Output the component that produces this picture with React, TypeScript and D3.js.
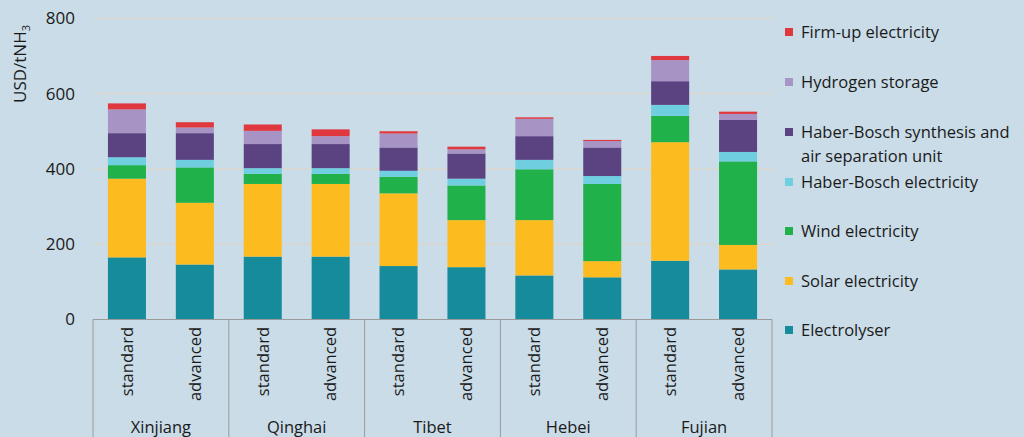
import React, { useEffect, useRef } from "react";
import * as d3 from "d3";

const regions = ["Xinjiang", "Qinghai", "Tibet", "Hebei", "Fujian"];
const cases = ["standard", "advanced"];

// stack order, bottom to top
const seriesNames = [
  "Electrolyser",
  "Solar electricity",
  "Wind electricity",
  "Haber-Bosch electricity",
  "Haber-Bosch synthesis and air separation unit",
  "Hydrogen storage",
  "Firm-up electricity",
];
const seriesColors = ["#168b9c", "#fcbb1f", "#20b14a", "#6fcfe0", "#5b4382", "#a893c5", "#e0383f"];

// one value per bar: Xinjiang std, Xinjiang adv, Qinghai std, ... Fujian adv
const electrolyser = [165, 146, 167, 167, 142, 139, 117, 112, 156, 133];
const solar = [209, 164, 193, 193, 193, 125, 147, 43, 315, 65];
const wind = [36, 94, 27, 27, 44, 92, 135, 205, 70, 222];
const hbElectricity = [21, 20, 15, 15, 16, 18, 25, 21, 29, 25];
const hbSynthesis = [64, 71, 64, 64, 62, 67, 63, 76, 63, 85];
const h2Storage = [63, 15, 35, 21, 37, 11, 46, 17, 56, 16];
const firmUp = [16, 14, 17, 18, 6, 7, 4, 3, 11, 6];

const yTicks = [0, 200, 400, 600, 800];

const legendLines = [
  ["Firm-up electricity"],
  ["Hydrogen storage"],
  ["Haber-Bosch synthesis and", "air separation unit"],
  ["Haber-Bosch electricity"],
  ["Wind electricity"],
  ["Solar electricity"],
  ["Electrolyser"],
];

function App() {
  const ref = useRef<SVGSVGElement>(null);

  useEffect(() => {
    const width = 1024;
    const height = 437;
    const font = "'Open Sans', sans-serif";
    const textColor = "#1a1a1a";

    const svg = d3.select(ref.current);
    svg.selectAll("*").remove();

    svg.append("rect").attr("width", width).attr("height", height).attr("fill", "#c9dce7");

    const bars = regions.flatMap((r) => cases.map((c) => `${r}|${c}`));
    const all = [electrolyser, solar, wind, hbElectricity, hbSynthesis, h2Storage, firmUp];
    const rows = bars.map((key, i) => {
      const row: any = { key };
      seriesNames.forEach((s, j) => (row[s] = all[j][i]));
      return row;
    });

    const x = d3.scaleBand().domain(bars).range([93, 772]).paddingInner(0.44).paddingOuter(0.22);
    const y = d3.scaleLinear().domain([0, 800]).range([319.5, 18.3]);

    // gridlines
    svg
      .append("g")
      .selectAll("line")
      .data(yTicks.filter((d) => d > 0))
      .join("line")
      .attr("x1", 93)
      .attr("x2", 772)
      .attr("y1", (d) => y(d))
      .attr("y2", (d) => y(d))
      .attr("stroke", "#e2d4c2")
      .attr("stroke-width", 1);

    // y tick labels
    svg
      .append("g")
      .attr("font-family", font)
      .attr("font-size", 17)
      .attr("fill", textColor)
      .attr("text-anchor", "end")
      .selectAll("text")
      .data(yTicks)
      .join("text")
      .attr("x", 75)
      .attr("y", (d) => y(d))
      .attr("dy", "0.35em")
      .text((d) => d);

    // y axis title
    const yt = svg
      .append("text")
      .attr("transform", "translate(26,64) rotate(-90)")
      .attr("text-anchor", "middle")
      .attr("font-family", font)
      .attr("font-size", 17)
      .attr("fill", textColor);
    yt.append("tspan").text("USD/tNH");
    yt.append("tspan").attr("font-size", 11).attr("dy", 4).text("3");

    // stacked bars
    const stack = d3.stack().keys(seriesNames)(rows as any);
    svg
      .append("g")
      .selectAll("g")
      .data(stack)
      .join("g")
      .attr("fill", (d, i) => seriesColors[i])
      .selectAll("rect")
      .data((d) => d)
      .join("rect")
      .attr("x", (d: any) => x(d.data.key)!)
      .attr("width", x.bandwidth())
      .attr("y", (d) => y(d[1]))
      .attr("height", (d) => y(d[0]) - y(d[1]));

    // category box axis
    const axisColor = "#9a9a9a";
    const ax = svg.append("g");
    ax.append("line")
      .attr("x1", 93)
      .attr("x2", 772)
      .attr("y1", 319.5)
      .attr("y2", 319.5)
      .attr("stroke", axisColor);
    const dividers = regions.map((r) => x(`${r}|standard`)! - x.step() * 0.22).concat([772]);
    ax.selectAll("line.div")
      .data(dividers)
      .join("line")
      .attr("class", "div")
      .attr("x1", (d) => d)
      .attr("x2", (d) => d)
      .attr("y1", 319.5)
      .attr("y2", height)
      .attr("stroke", axisColor);

    svg
      .append("g")
      .attr("font-family", font)
      .attr("font-size", 16.5)
      .attr("fill", textColor)
      .attr("text-anchor", "end")
      .selectAll("text")
      .data(bars)
      .join("text")
      .attr("transform", (d) => `translate(${x(d)! + x.bandwidth() / 2},327) rotate(-90)`)
      .attr("dy", "0.35em")
      .text((d) => d.split("|")[1]);

    svg
      .append("g")
      .attr("font-family", font)
      .attr("font-size", 16.5)
      .attr("fill", textColor)
      .attr("text-anchor", "middle")
      .selectAll("text")
      .data(regions)
      .join("text")
      .attr("x", (r) => (x(`${r}|standard`)! + x(`${r}|advanced`)! + x.bandwidth()) / 2)
      .attr("y", 433)
      .text((r) => r);

    // legend
    const legendY = [32, 82, 132, 182, 231, 281, 330];
    const lg = svg
      .append("g")
      .attr("font-family", font)
      .attr("font-size", 16.5)
      .attr("fill", textColor);
    legendLines.forEach((lines, i) => {
      const color = seriesColors[seriesColors.length - 1 - i];
      lg.append("rect")
        .attr("x", 785)
        .attr("y", legendY[i] - 4)
        .attr("width", 8)
        .attr("height", 8)
        .attr("fill", color);
      lines.forEach((t, k) => {
        lg.append("text")
          .attr("x", 801)
          .attr("y", legendY[i] + k * 24)
          .attr("dy", "0.35em")
          .text(t);
      });
    });
  }, []);

  return (
    <svg
      ref={ref}
      width={1024}
      height={437}
      style={{ position: "absolute", left: 0, top: 0, display: "block" }}
    />
  );
}

export default App;
